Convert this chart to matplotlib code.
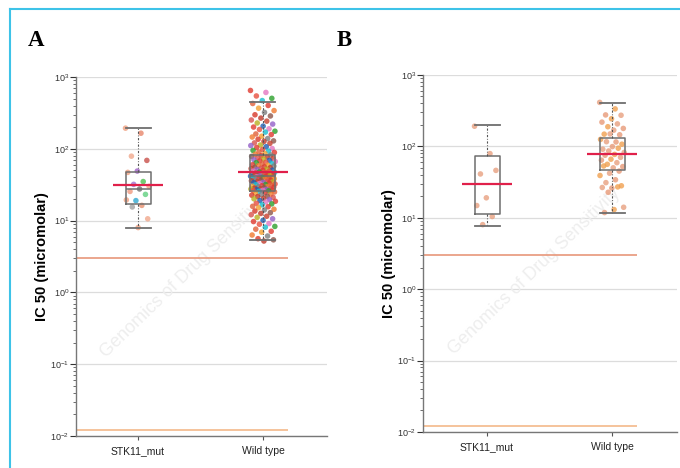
import numpy as np
import matplotlib
matplotlib.use("Agg")
import matplotlib.pyplot as plt
from matplotlib.lines import Line2D
from matplotlib.ticker import LogLocator, NullFormatter

plt.rcParams["font.family"] = ["Liberation Sans", "DejaVu Sans"]
plt.rcParams["mathtext.default"] = "regular"

# ---- data (IC50, micromolar) ----
groups = ["STK11_mut", "Wild type"]

# panel A
a_mut_ic50 = [194, 165, 79, 69, 49, 47, 35, 32, 30, 27.6, 25.5, 23.2, 19, 19.4, 16.3, 15.5, 10.6, 8.0]
a_mut_colors = ["#f0a080", "#e8876c", "#f0a88c", "#c8504a", "#a060c8", "#f0a080",
                "#50c050", "#a070d0", "#f0a080", "#707070", "#f09a80", "#60d080",
                "#30a8d0", "#f0a080", "#e89070", "#a0a0a0", "#f0a88c", "#f0a080"]
a_wt_ic50 = [
    650, 610, 545, 505, 470, 428, 402, 368, 341, 322, 298, 287, 268, 252, 243,
    229, 221, 207, 201, 190, 186, 176, 171, 161, 158, 150, 146, 139, 136, 129,
    127, 121, 119, 113, 111, 107, 104, 101, 98, 95, 93, 90, 89, 86, 84,
    82, 80, 78.5, 77, 75, 73.5, 72, 70.5, 69, 68, 66.5, 65, 64, 62.5, 61.5,
    60, 59, 58, 57.5, 56, 55, 54.5, 53.5, 53, 52, 51.5, 50.5, 50, 49, 48.5,
    47.5, 47, 46.5, 46, 45.5, 45, 44.5, 44, 43.5, 43, 42.8, 42.5, 42.2, 42, 41.6,
    41.2, 40.7, 40.2, 40, 39.4, 38.9, 38.8, 38.3, 37.6, 37.1, 36.6, 36.3, 35.9, 35.2, 35,
    34.6, 34.1, 33.8, 33.4, 32.9, 32.4, 31.8, 31.6, 31, 30.6, 30.1, 29.9, 29.5, 29.2, 28.7,
    28.4, 28.1, 27.8, 27.5, 27.2, 26.9, 26.7, 26.4, 26.2, 26, 25.6, 25.1, 24.4, 24.1, 23.4,
    23, 22.6, 21.9, 21.6, 21.1, 20.4, 20.1, 19.6, 19, 18.6, 18.2, 17.4, 17.1, 16.6, 15.8,
    15.6, 15.1, 14.4, 14.1, 13.6, 12.9, 12.6, 12.1, 11.5, 11.1, 10.6, 10.1, 9.7, 9.1, 8.9,
    8.3, 8.1, 7.6, 7.1, 6.9, 6.3, 6.1, 5.6, 5.4, 5.2,
]
a_wt_palette = ["#e03a30", "#d9534f", "#f07a30", "#2ca02c", "#9460c8", "#8c564b",
                "#e03a30", "#e377c2", "#c8402e", "#7f7f7f", "#17becf", "#1f5fb4",
                "#c0392b", "#f4a030", "#e85040", "#b8b020", "#d83a2a", "#e0603a"]

# panel B
b_mut_ic50 = [191, 79, 41, 46, 19, 14.8, 10.4, 8.0]
b_wt_ic50 = [412, 334, 275, 272, 243, 218, 206, 188, 178, 168, 148, 145, 149, 125,
             115, 116, 107, 99, 91, 94, 86, 82, 77, 75, 70, 66, 64, 59, 56, 52,
             50, 53, 45, 42, 39, 34, 31, 28, 26, 26.5, 27, 22.7, 14, 13, 11.8]

# box statistics, order = groups
a_q1 = [17.2, 26]
a_med = [27.8, 42]
a_q3 = [48, 83]
a_whislo = [8.0, 5.3]
a_whishi = [196, 450]
a_mean = [31.6, 48]

b_q1 = [11.4, 46]
b_med = [30, 77]
b_q3 = [72, 129]
b_whislo = [7.7, 11.8]
b_whishi = [196, 410]
b_mean = [29.7, 77]

# tested concentration range (orange reference lines)
conc_range = [3.0, 0.012]
conc_colors = ["#e8977a", "#f3b98a"]

GRID = "#dcdcdc"
BOX = "#6e6e6e"
RED = "#e0204a"


def jitter(n, width):
    # deterministic spread so points sit side by side
    return (((np.arange(n) * 0.6180339) % 1.0) - 0.5) * 2 * width


def panel(ax, q1, med, q3, wlo, whi, mean, pts, xlim):
    ax.set_yscale("log")
    ax.set_ylim(1e-2, 1e3)
    ax.set_xlim(*xlim)
    for y in [1e-2, 1e-1, 1e0, 1e1, 1e2, 1e3]:
        ax.axhline(y, color=GRID, lw=0.9, zorder=0)

    for y, c in zip(conc_range, conc_colors):
        ax.hlines(y, xlim[0], 2.2, color=c, lw=1.2, zorder=1)

    for i, (vals, cols) in enumerate(pts):
        x = i + 1 + jitter(len(vals), 0.1)
        ax.scatter(x, vals, s=16, c=cols, alpha=0.8, linewidths=0, zorder=2)

    stats = [dict(med=med[i], q1=q1[i], q3=q3[i], whislo=wlo[i], whishi=whi[i],
                  fliers=[]) for i in range(2)]
    ax.bxp(stats, positions=[1, 2], widths=0.2, capwidths=0.2, showfliers=False,
           boxprops=dict(color=BOX, lw=1.1),
           medianprops=dict(color=BOX, lw=1.1),
           whiskerprops=dict(color="#555555", lw=0.8, linestyle=(0, (2, 1.5, 0.8, 1.5))),
           capprops=dict(color=BOX, lw=1.3), zorder=3)
    ax.hlines(mean, [1 - 0.2, 2 - 0.2], [1 + 0.2, 2 + 0.2], color=RED, lw=1.6, zorder=4)

    ax.set_xticks([1, 2])
    ax.set_xticklabels(groups, fontsize=7.5, color="#222222")
    ax.yaxis.set_major_locator(LogLocator(base=10, numticks=10))
    ax.yaxis.set_minor_locator(LogLocator(base=10, subs=np.arange(2, 10), numticks=10))
    ax.yaxis.set_minor_formatter(NullFormatter())
    ax.tick_params(axis="y", which="major", labelsize=6.5, length=4, width=0.8,
                   colors="#333333", pad=1)
    ax.tick_params(axis="y", which="minor", length=2, width=0.6, colors="#555555")
    ax.tick_params(axis="x", length=3, width=0.8, colors="#555555", labelcolor="#222222",
                   pad=4)
    for s in ["top", "right"]:
        ax.spines[s].set_visible(False)
    for s in ["left", "bottom"]:
        ax.spines[s].set_color("#777777")
        ax.spines[s].set_linewidth(1.0)
    ax.set_ylabel("IC 50 (micromolar)", fontsize=10.5, fontweight="bold", labelpad=1)
    ax.text(0.44, 0.45, "Genomics of Drug Sensitivity", transform=ax.transAxes,
            rotation=44, fontsize=13, color="#eeeeee", ha="center", va="center", zorder=0)


fig = plt.figure(figsize=(6.8, 4.68), dpi=100)

ax_a = fig.add_axes([0.1118, 0.0684, 0.369, 0.767])
a_wt_colors = [a_wt_palette[(i * 7) % len(a_wt_palette)] for i in range(len(a_wt_ic50))]
panel(ax_a, a_q1, a_med, a_q3, a_whislo, a_whishi, a_mean,
      [(a_mut_ic50, a_mut_colors), (a_wt_ic50, a_wt_colors)], (0.504, 2.512))

ax_b = fig.add_axes([0.622, 0.077, 0.374, 0.763])
b_mut_colors = ["#e8a080"] * len(b_mut_ic50)
b_wt_colors = [["#e8a080", "#f0a050", "#e89a78"][i % 3] for i in range(len(b_wt_ic50))]
panel(ax_b, b_q1, b_med, b_q3, b_whislo, b_whishi, b_mean,
      [(b_mut_ic50, b_mut_colors), (b_wt_ic50, b_wt_colors)], (0.488, 2.52))

fig.text(36 / 680, 1 - 40 / 468, "A", fontsize=16.5, fontweight="bold",
         family=["Liberation Serif", "DejaVu Serif"], ha="center", va="center")
fig.text(344 / 680, 1 - 41 / 468, "B", fontsize=16.5, fontweight="bold",
         family=["Liberation Serif", "DejaVu Serif"], ha="center", va="center")

# light blue frame along top and left
fig.add_artist(Line2D([10 / 680, 1], [1 - 9 / 468] * 2, color="#3ec3e8", lw=1.5))
fig.add_artist(Line2D([10 / 680] * 2, [0, 1 - 9 / 468], color="#3ec3e8", lw=1.5))

fig.savefig("out.png", dpi=100, facecolor="white")
